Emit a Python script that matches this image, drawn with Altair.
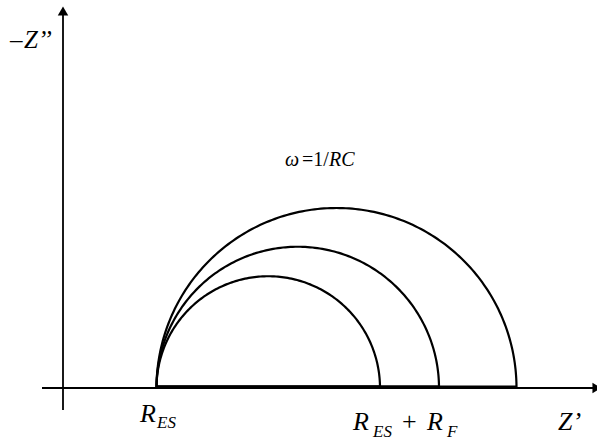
import numpy as np
import pandas as pd
import altair as alt

# Nyquist plot of a simple Randles cell: R_ES in series with (R_F || C)
R_ES = 93.5                      # electrolyte / solution resistance
R_F = [223.5, 282.5, 360.0]      # faradaic (charge-transfer) resistances
curve_names = ["small", "medium", "large"]

W, H = 597, 441
X_MIN, X_MAX = -63, 534
Y_MIN, Y_MAX = -53, 388

# semicircle of each curve: Z' = R_ES + R_F/2 (1 + cos t), -Z'' = R_F/2 sin t
theta = np.linspace(0, np.pi, 181)
rows = []
for name, rf in zip(curve_names, R_F):
    r = rf / 2.0
    for i, t in enumerate(theta):
        rows.append({"curve": name, "order": i,
                     "zr": R_ES + r + r * np.cos(t),
                     "zi": r * np.sin(t)})
arcs = pd.DataFrame(rows)

diam = pd.DataFrame({"curve": curve_names,
                     "x1": [R_ES] * 3,
                     "x2": [R_ES + rf for rf in R_F],
                     "y": [1.3] * 3})

xs = alt.Scale(domain=[X_MIN, X_MAX], nice=False, zero=False)
ys = alt.Scale(domain=[Y_MIN, Y_MAX], nice=False, zero=False)

arc_layer = alt.Chart(arcs).mark_line(color="black", strokeWidth=2.2).encode(
    x=alt.X("zr:Q", scale=xs, axis=None),
    y=alt.Y("zi:Q", scale=ys, axis=None),
    detail="curve:N",
    order="order:Q",
)

diam_layer = alt.Chart(diam).mark_rule(color="black", strokeWidth=2.5).encode(
    x=alt.X("x1:Q", scale=xs, axis=None),
    x2="x2:Q",
    y=alt.Y("y:Q", scale=ys, axis=None),
)

# axes drawn as lines with arrowheads
axes_df = pd.DataFrame({"x1": [-21, 0], "x2": [534, 0],
                        "y1": [0, -22], "y2": [0, 375]})
axes_layer = alt.Chart(axes_df).mark_rule(color="black", strokeWidth=1.8).encode(
    x=alt.X("x1:Q", scale=xs, axis=None), x2="x2:Q",
    y=alt.Y("y1:Q", scale=ys, axis=None), y2="y2:Q",
)

arrows_df = pd.DataFrame({"x": [0, 534], "y": [377, 0],
                          "shape": ["triangle-up", "triangle-right"]})
arrow_layer = alt.Chart(arrows_df).mark_point(
    filled=True, color="black", opacity=1, size=110
).encode(
    x=alt.X("x:Q", scale=xs, axis=None), y=alt.Y("y:Q", scale=ys, axis=None),
    shape=alt.Shape("shape:N", scale=None),
)

# label pieces (subscripts are separate, smaller text)
italic_labels = pd.DataFrame({
    "text": ["Z\u2019\u2019", "R", "ES", "R", "ES", "R", "F", "Z\u2019", "\u03c9", "RC"],
    "x":    [-39, 77, 94, 290, 310, 364, 384, 495, 222, 266],
    "y":    [340, -34, -40, -42, -49, -42, -49, -42, 222, 222],
    "fs":   [25, 26, 17, 26, 17, 26, 17, 26, 20, 20],
})
upright_labels = pd.DataFrame({
    "text": ["\u2013", "+", "=1/"],
    "x":    [-53, 339, 239],
    "y":    [340, -42, 222],
    "fs":   [25, 26, 20],
})

def text_layer(df, style):
    return alt.Chart(df).mark_text(
        align="left", baseline="alphabetic", font="Liberation Serif",
        fontStyle=style, color="black"
    ).encode(
        x=alt.X("x:Q", scale=xs, axis=None), y=alt.Y("y:Q", scale=ys, axis=None),
        text="text:N", size=alt.Size("fs:Q", scale=None),
    )

chart = alt.layer(
    axes_layer, diam_layer, arc_layer, arrow_layer,
    text_layer(italic_labels, "italic"),
    text_layer(upright_labels, "normal"),
).properties(
    width=W, height=H, padding=0, autosize=alt.AutoSizeParams(type="none"),
    background="white",
).configure_view(stroke=None)

chart.save("out.html", embed_options={"renderer": "svg", "actions": False})
